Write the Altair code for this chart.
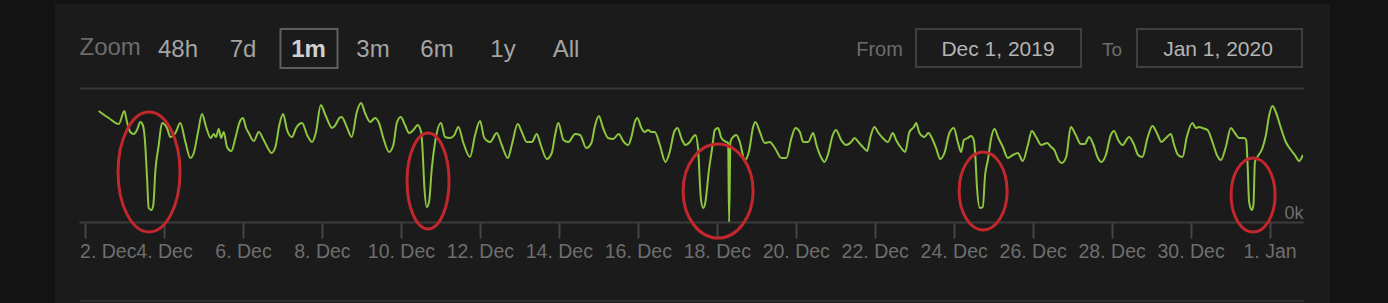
import altair as alt
import pandas as pd

FONT = "Liberation Sans"

# Series: hours since 2019-12-01 00:00 UTC, and value in thousands
hours = [
    32.3, 38.4, 44.5, 47.9, 49.5, 51.5, 53.6, 55.6, 57.6, 59.1,
    60.3, 61.7, 62.7, 64.3, 65.5, 66.7, 68.8, 70.8, 73.8, 75.9,
    78.9, 81.9, 85.0, 88.0, 90.1, 92.7, 95.1, 97.6, 100.4, 102.2,
    103.6, 105.3, 106.7, 108.3, 110.3, 112.9, 115.4, 118.0, 120.0, 121.9,
    123.5, 126.6, 129.6, 132.6, 135.1, 137.3, 139.7, 142.1, 144.4, 146.8,
    149.8, 152.3, 155.9, 159.0, 162.0, 164.4, 167.3, 170.1, 174.2, 176.2,
    178.6,
    180.0, 183.1, 186.1, 189.2, 191.8, 194.2, 197.3, 200.3, 202.7, 205.3,
    208.8, 211.4, 213.5, 215.9, 218.5, 221.0, 223.6, 226.2, 228.3, 229.0,
    230.3, 231.7, 233.1, 234.8, 236.8, 240.4, 242.8, 245.9, 248.5, 250.9,
    254.0, 258.0, 261.1, 264.1, 266.7, 270.2, 274.3, 277.3, 281.0, 283.4,
    287.0, 289.5, 292.5, 295.6, 298.6, 301.0, 304.7, 307.7, 309.7, 311.7,
    314.8, 317.8, 321.9, 324.9,
    328.7, 331.8, 333.8, 336.3, 338.9, 341.9, 345.0, 348.4, 351.1, 354.1,
    356.1, 358.2, 359.7, 362.2, 364.2, 366.2, 368.3, 370.3, 373.4, 376.8,
    379.4, 382.1, 384.1, 386.9, 388.9, 391.6, 393.6, 395.0, 396.6, 398.3,
    399.7, 401.1, 403.1, 405.2, 406.8, 408.8, 410.8, 413.8, 414.9, 415.5,
    416.3, 417.9, 419.9, 422.0, 425.0, 427.5, 430.1, 431.5, 434.2, 437.2,
    440.2, 443.3, 447.3, 450.3, 453.4, 455.8, 458.5, 460.5, 463.5, 466.6,
    468.6, 471.6, 473.4,
    475.5, 478.5, 480.5, 483.6, 486.6, 489.7, 491.7, 494.1, 496.8, 499.4,
    501.4, 503.8, 506.3, 508.9, 512.0, 515.0, 517.0, 520.1, 522.5, 525.1,
    527.8, 529.2, 531.2, 534.2, 536.6, 539.3, 541.3, 543.8, 546.4, 549.4,
    552.1, 554.5, 556.5, 558.2, 560.6, 562.6, 564.2, 565.0, 566.2, 567.9,
    569.7, 571.1, 572.8, 574.8, 576.8, 579.2, 581.9, 584.9, 588.0, 591.0,
    594.0, 597.1, 599.5, 602.1, 605.2, 608.8, 611.2, 613.2, 615.7, 617.7,
    620.4,
    623.2, 626.2, 629.3, 631.7, 634.3, 637.0, 639.4, 641.8, 644.5, 647.5,
    649.5, 652.0, 654.6, 658.6, 661.7, 664.1, 666.7, 669.8, 672.8, 675.5,
    678.3, 681.0, 684.0, 686.0, 688.4, 691.1, 693.7, 697.1, 699.2, 701.2,
    703.2, 706.3, 709.3, 712.0, 714.4, 717.4, 720.5, 722.9, 725.5, 728.6,
    729.8, 730.6, 731.6, 733.2, 734.2, 735.1, 736.6, 739.7, 741.8, 743.8,
    745.8, 747.8, 750.9, 753.9, 757.0, 759.4, 762.0, 764.3,
]
values = [
    11.1, 10.4, 9.8, 11.1, 10.0, 9.0, 8.8, 9.2, 10.0, 9.7,
    8.4, 4.4, 1.4, 1.2, 1.7, 5.0, 7.7, 9.9, 9.4, 8.5,
    8.9, 9.9, 8.0, 6.4, 6.9, 9.0, 10.8, 9.5, 8.4, 8.8,
    8.5, 9.3, 8.4, 9.0, 7.5, 7.1, 8.4, 10.0, 10.4, 9.4,
    8.9, 8.1, 9.0, 8.2, 7.4, 6.9, 7.5, 9.7, 10.8, 9.2,
    8.5, 9.4, 9.9, 8.7, 8.0, 9.0, 11.7, 10.7, 9.4, 9.7,
    10.4,
    10.5, 9.5, 8.5, 11.0, 11.9, 10.9, 10.0, 10.4, 9.9, 8.4,
    7.0, 7.7, 9.9, 10.5, 9.7, 8.9, 9.2, 9.7, 9.0, 7.7,
    3.4, 1.5, 2.0, 5.4, 8.0, 9.9, 8.5, 8.4, 8.7, 9.5,
    7.9, 6.5, 8.7, 10.1, 8.4, 8.0, 8.9, 7.7, 6.4, 7.7,
    9.8, 9.0, 8.0, 8.0, 8.8, 7.7, 6.3, 6.9, 8.7, 9.9,
    8.2, 8.0, 8.8, 8.7,
    7.4, 7.9, 9.5, 10.6, 9.4, 8.4, 8.3, 8.8, 8.1, 7.7,
    8.5, 10.0, 10.4, 9.4, 9.0, 9.2, 9.0, 9.0, 7.7, 6.0,
    7.0, 9.0, 9.4, 8.2, 7.7, 8.0, 8.5, 8.7, 7.4, 2.4,
    1.4, 2.0, 5.0, 7.4, 9.2, 9.4, 8.4, 8.0, 7.9, 0.0,
    8.0, 8.5, 8.7, 8.0, 6.2, 7.0, 9.5, 10.0, 9.0, 7.9,
    8.0, 7.4, 6.4, 6.4, 8.4, 9.4, 9.0, 8.0, 8.0, 8.9,
    7.7, 6.4, 6.0,
    6.7, 8.7, 9.2, 8.2, 7.7, 8.0, 8.4, 8.0, 7.5, 7.1,
    8.5, 9.5, 8.9, 8.4, 8.0, 8.9, 8.2, 7.4, 7.0, 9.0,
    9.5, 9.9, 8.9, 8.5, 8.9, 8.2, 7.4, 6.3, 6.9, 8.9,
    9.4, 8.0, 7.0, 8.2, 8.4, 8.6, 8.2, 7.0, 3.4, 1.4,
    1.5, 4.7, 6.2, 8.4, 9.3, 8.4, 7.5, 6.4, 6.7, 6.9,
    6.1, 7.7, 9.1, 8.5, 7.7, 7.9, 7.5, 7.2, 6.2, 5.9,
    6.5,
    9.5, 8.7, 7.8, 7.8, 8.5, 7.7, 6.5, 6.0, 6.7, 8.7,
    9.1, 8.2, 7.7, 8.5, 7.7, 6.7, 6.5, 8.4, 9.6, 8.9,
    8.0, 8.4, 8.8, 7.7, 6.7, 6.5, 8.5, 9.9, 9.4, 9.5,
    9.4, 9.2, 8.0, 6.7, 6.2, 7.5, 9.4, 8.9, 8.4, 8.4,
    8.2, 6.0, 2.0, 1.2, 1.7, 6.0, 6.5, 7.4, 8.7, 10.7,
    11.6, 11.0, 9.4, 8.0, 7.2, 6.7, 6.1, 6.7,
]

# Highlighted outages: centre (hours since Dec 1, value in thousands)
outage_hours = [62.9, 232.5, 408.8, 569.9, 734.0]
outage_values = [5.0, 4.1, 3.1, 3.1, 2.7]
# ellipse half-width / half-height in pixels
outage_rx = [31, 21, 35, 24, 22]
outage_ry = [60, 48, 47, 39, 37]

tick_dates = ["2019-12-02", "2019-12-04", "2019-12-06", "2019-12-08", "2019-12-10",
              "2019-12-12", "2019-12-14", "2019-12-16", "2019-12-18", "2019-12-20",
              "2019-12-22", "2019-12-24", "2019-12-26", "2019-12-28", "2019-12-30",
              "2020-01-01"]

zoom_buttons = ["48h", "7d", "1m", "3m", "6m", "1y", "All"]
zoom_button_x = [178, 243, 308.5, 373, 437, 503, 566]
selected_button = "1m"
range_from = "Dec 1, 2019"
range_to = "Jan 1, 2020"

# ---- layout ----
W, H = 1224, 132
X0, Y0 = 79, 90          # plot origin on the page

START = pd.Timestamp("2019-12-01T00:00:00Z")


def iso(h):
    return (START + pd.Timedelta(hours=h)).strftime("%Y-%m-%dT%H:%M:%SZ")


df = pd.DataFrame({"t": [iso(h) for h in hours], "v": values})
tick_ms = [int(pd.Timestamp(d, tz="UTC").value // 10**6) for d in tick_dates]

x_scale = alt.Scale(
    type="utc",
    domain=[alt.DateTime(year=2019, month=12, date=1, hours=20, minutes=20, utc=True),
            alt.DateTime(year=2020, month=1, date=1, hours=20, minutes=20, utc=True)],
)
y_scale = alt.Scale(domain=[0, 13.2], nice=False, zero=True)

x_axis = alt.Axis(
    values=tick_ms, labelExpr="utcFormat(datum.value, '%-d. %b')", title=None,
    grid=False, domainColor="#3c3c3c", domainWidth=2, tickColor="#454545",
    tickWidth=2, tickSize=16, labelFont=FONT, labelFontSize=19.5,
    labelColor="#6e6e6e", labelPadding=19, labelBaseline="alphabetic",
    labelFlush=7, labelFlushOffset=5.5, labelOverlap=False, labelBound=False,
)
y_axis = alt.Axis(
    orient="right", values=[0], labelExpr="datum.value + 'k'", ticks=False,
    domain=False, grid=False, title=None, labelAlign="right",
    labelBaseline="alphabetic", labelPadding=0, labelOffset=-4,
    labelFont=FONT, labelFontSize=18, labelColor="#6e6e6e",
)

line = alt.Chart(df).mark_line(
    color="#8dc63f", strokeWidth=2, interpolate="monotone", clip=True
).encode(
    x=alt.X("t:T", scale=x_scale, axis=x_axis),
    y=alt.Y("v:Q", scale=y_scale, axis=y_axis),
)

layers = []


def blank():
    return alt.Chart(alt.Data(values=[{}]))


def rect(x1, y1, x2, y2, fill=None, stroke=None, sw=0):
    kw = {}
    if fill:
        kw["fill"] = fill
    else:
        kw["fillOpacity"] = 0
    if stroke:
        kw["stroke"] = stroke
        kw["strokeWidth"] = sw
    return blank().mark_rect(**kw).encode(
        x=alt.value(x1 - X0), x2=alt.value(x2 - X0),
        y=alt.value(y1 - Y0), y2=alt.value(y2 - Y0),
    )


def hrule(x1, x2, y, color, sw):
    return blank().mark_rule(color=color, strokeWidth=sw).encode(
        x=alt.value(x1 - X0), x2=alt.value(x2 - X0), y=alt.value(y - Y0)
    )


def label(s, x, y, size, color, weight="normal", align="center"):
    return blank().mark_text(
        text=s, font=FONT, fontSize=size, color=color, fontWeight=weight,
        align=align, baseline="alphabetic",
    ).encode(x=alt.value(x - X0), y=alt.value(y - Y0))


# page frame around the panel
layers.append(rect(0, 0, 55, 303, fill="#131313"))
layers.append(rect(1330, 0, 1388, 303, fill="#131313"))
layers.append(rect(55, 0, 1330, 4, fill="#131313"))

# range selector
layers.append(label("Zoom", 79.5, 55, 24, "#6c6c6c", align="left"))
for name, bx in zip(zoom_buttons, zoom_button_x):
    if name == selected_button:
        layers.append(rect(280.5, 29, 337.5, 68, stroke="#5e5e5e", sw=2))
        layers.append(label(name, bx, 57, 24, "#d0d0d0", weight="bold"))
    else:
        layers.append(label(name, bx, 57, 24, "#a4a4a4"))

layers.append(label("From", 879.5, 56, 20, "#6c6c6c"))
layers.append(rect(916, 29, 1081, 67, stroke="#404040", sw=2))
layers.append(label(range_from, 998, 56, 21, "#b4b4b4"))
layers.append(label("To", 1112, 56, 19, "#6c6c6c"))
layers.append(rect(1137, 29, 1302, 67, stroke="#404040", sw=2))
layers.append(label(range_to, 1218, 56, 21, "#b4b4b4"))

# separators
layers.append(hrule(79.5, 1304, 88.5, "#383838", 2))
layers.append(hrule(79.5, 1304, 301, "#2e2e2e", 2))

layers.append(line)

# outage ellipses
for h, v, rx, ry in zip(outage_hours, outage_values, outage_rx, outage_ry):
    path = f"M {-rx} 0 A {rx} {ry} 0 1 0 {rx} 0 A {rx} {ry} 0 1 0 {-rx} 0 Z"
    layers.append(
        alt.Chart(pd.DataFrame({"t": [iso(h)], "v": [v]})).mark_point(
            shape=path, size=4, filled=False, stroke="#c1272d", strokeWidth=3,
            opacity=1,
        ).encode(
            x=alt.X("t:T", scale=x_scale, axis=x_axis),
            y=alt.Y("v:Q", scale=y_scale, axis=y_axis),
        )
    )

chart = alt.layer(*layers).properties(
    width=W, height=H,
    padding={"left": X0, "top": Y0, "right": 1388 - X0 - W, "bottom": 303 - Y0 - H},
    autosize=alt.AutoSizeParams(type="none"),
).configure(background="#1b1b1b").configure_view(strokeWidth=0)

chart.save("out.html", embed_options={"renderer": "svg", "actions": False})
